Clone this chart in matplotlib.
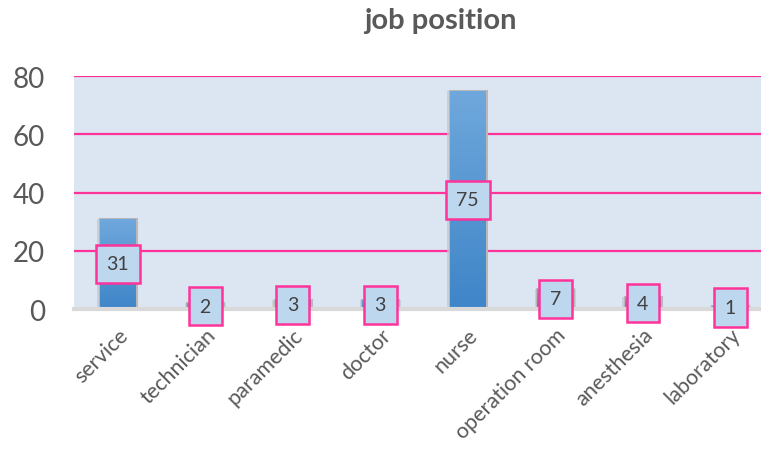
import numpy as np
import matplotlib.pyplot as plt
from matplotlib.colors import LinearSegmentedColormap

categories = ['service', 'technician', 'paramedic', 'doctor', 'nurse',
              'operation room', 'anesthesia', 'laboratory']
counts = [31, 2, 3, 3, 75, 7, 4, 1]
y_ticks = [0, 20, 40, 60, 80]

plt.rcParams['font.family'] = ['Lato', 'DejaVu Sans']

fig = plt.figure(figsize=(7.61, 4.52), dpi=100)
ax = fig.add_axes([0.0972, 0.314, 0.9028, 0.5155])
ax.set_facecolor('#DCE6F2')

x = np.arange(len(categories))

# pink gridlines behind the bars
for t in y_ticks[1:]:
    ax.axhline(t, color='#FF3399', lw=1.6, zorder=1)

# soft shadow, then the bars
ax.bar(x, counts, width=0.47, color='#C3C8CE', alpha=0.7, zorder=2, linewidth=0)
bars = ax.bar(x, counts, width=0.41, color='#5B9BD5', edgecolor='#B8B8B8',
              linewidth=2.2, zorder=3)

# vertical gradient on each bar
cmap = LinearSegmentedColormap.from_list('g', ['#3F85C8', '#6FA8DC'])
grad = np.linspace(0, 1, 256).reshape(-1, 1)
for b in bars:
    bx, by = b.get_x(), b.get_y()
    bw, bh = b.get_width(), b.get_height()
    im = ax.imshow(grad, cmap=cmap, origin='lower', aspect='auto',
                   extent=[bx, bx + bw, by, by + bh], zorder=3.5)
    im.set_clip_path(b)

# data labels in boxes, centred on each bar
for xi, v in zip(x, counts):
    ax.text(xi, v / 2, str(v), ha='center', va='center', fontsize=14,
            color='#404040', zorder=5,
            bbox=dict(boxstyle='square,pad=0.55', facecolor='#BDD7EE',
                      edgecolor='#FF3399', linewidth=1.8))

ax.set_xlim(-0.5, 7.35)
ax.set_ylim(0, 80)
ax.set_yticks(y_ticks)
ax.set_yticklabels([str(t) for t in y_ticks], fontsize=20, color='#595959')
ax.set_xticks(x)
ax.set_xticklabels(categories, rotation=45, ha='right', rotation_mode='anchor',
                   fontsize=15.5, color='#595959')
ax.tick_params(axis='both', length=0)
ax.tick_params(axis='x', pad=11)
ax.tick_params(axis='y', pad=21)

for s in ['top', 'right', 'left']:
    ax.spines[s].set_visible(False)
ax.spines['bottom'].set_color('#D9D9D9')
ax.spines['bottom'].set_linewidth(3)
ax.spines['bottom'].set_zorder(4)

fig.text(0.578, 0.953, 'job position', ha='center', va='center',
         fontsize=21, fontweight='bold', color='#595959')

fig.savefig('out.png', dpi=100)
